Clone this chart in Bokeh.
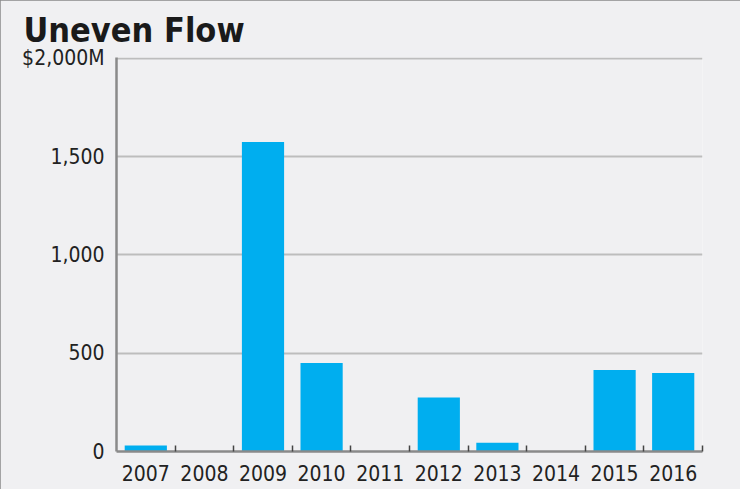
from bokeh.plotting import figure
from bokeh.models import Range1d, FixedTicker, ColumnDataSource
from bokeh.embed import file_html
from bokeh.resources import INLINE

# ---- data ----
years = ["2007", "2008", "2009", "2010", "2011", "2012", "2013", "2014", "2015", "2016"]
values = [30, 0, 1575, 450, 0, 275, 45, 0, 415, 400]
y_ticks = [0, 500, 1000, 1500, 2000]
y_tick_labels = ["0", "500", "1,000", "1,500", "$2,000M"]
title_text = "Uneven Flow"

FONT = "DejaVu Sans Condensed, Roboto"
BG = "#f0f0f2"
BAR = "#00aeef"

n = len(years)
centers = [i + 0.5 for i in range(n)]
boundaries = [i + 1 for i in range(n)]

src = ColumnDataSource(dict(x=centers, top=values, year=years))

p = figure(width=740, height=489, x_range=Range1d(0, n), y_range=Range1d(0, y_ticks[-1] + 5),
           output_backend="svg", toolbar_location=None, title=title_text,
           min_border_left=116, min_border_right=38, min_border_top=57, min_border_bottom=38)
p.background_fill_color = BG
p.border_fill_color = BG
p.outline_line_color = None
p.styles = {"outline": "2px solid #8a8a8a", "outline-offset": "-2px"}

p.title.text_font = FONT
p.title.text_font_style = "bold"
p.title.text_font_size = "34px"
p.title.text_color = "#1a1a1a"
p.title.align = "left"
p.title.offset = -93
p.title.standoff = 15

p.vbar(x="x", top="top", width=0.72, bottom=0, source=src, color=BAR, line_color=None)

# x axis
xa = p.xaxis[0]
xa.ticker = FixedTicker(ticks=centers, minor_ticks=boundaries)
xa.major_label_overrides = {c: y for c, y in zip(centers, years)}
xa.major_tick_line_color = None
xa.minor_tick_in = 6
xa.minor_tick_out = 0
xa.minor_tick_line_color = "#444444"
xa.minor_tick_line_width = 1.5
xa.axis_line_color = "#8a8a8a"
xa.axis_line_width = 2.5
xa.major_label_text_font = FONT
xa.major_label_text_font_size = "21px"
xa.major_label_text_color = "#222222"
xa.major_label_standoff = 7

# y axis
ya = p.yaxis[0]
ya.ticker = FixedTicker(ticks=y_ticks)
ya.major_label_overrides = {t: l for t, l in zip(y_ticks, y_tick_labels)}
ya.major_tick_line_color = None
ya.minor_tick_line_color = None
ya.axis_line_color = "#8a8a8a"
ya.axis_line_width = 2.5
ya.major_label_text_font = FONT
ya.major_label_text_font_size = "21px"
ya.major_label_text_color = "#222222"
ya.major_label_standoff = 6

p.xgrid.grid_line_color = None
p.ygrid.ticker = FixedTicker(ticks=y_ticks)
p.ygrid.grid_line_color = "#bdbdbd"
p.ygrid.grid_line_width = 2

open("out.html", "w").write(file_html(p, INLINE))
